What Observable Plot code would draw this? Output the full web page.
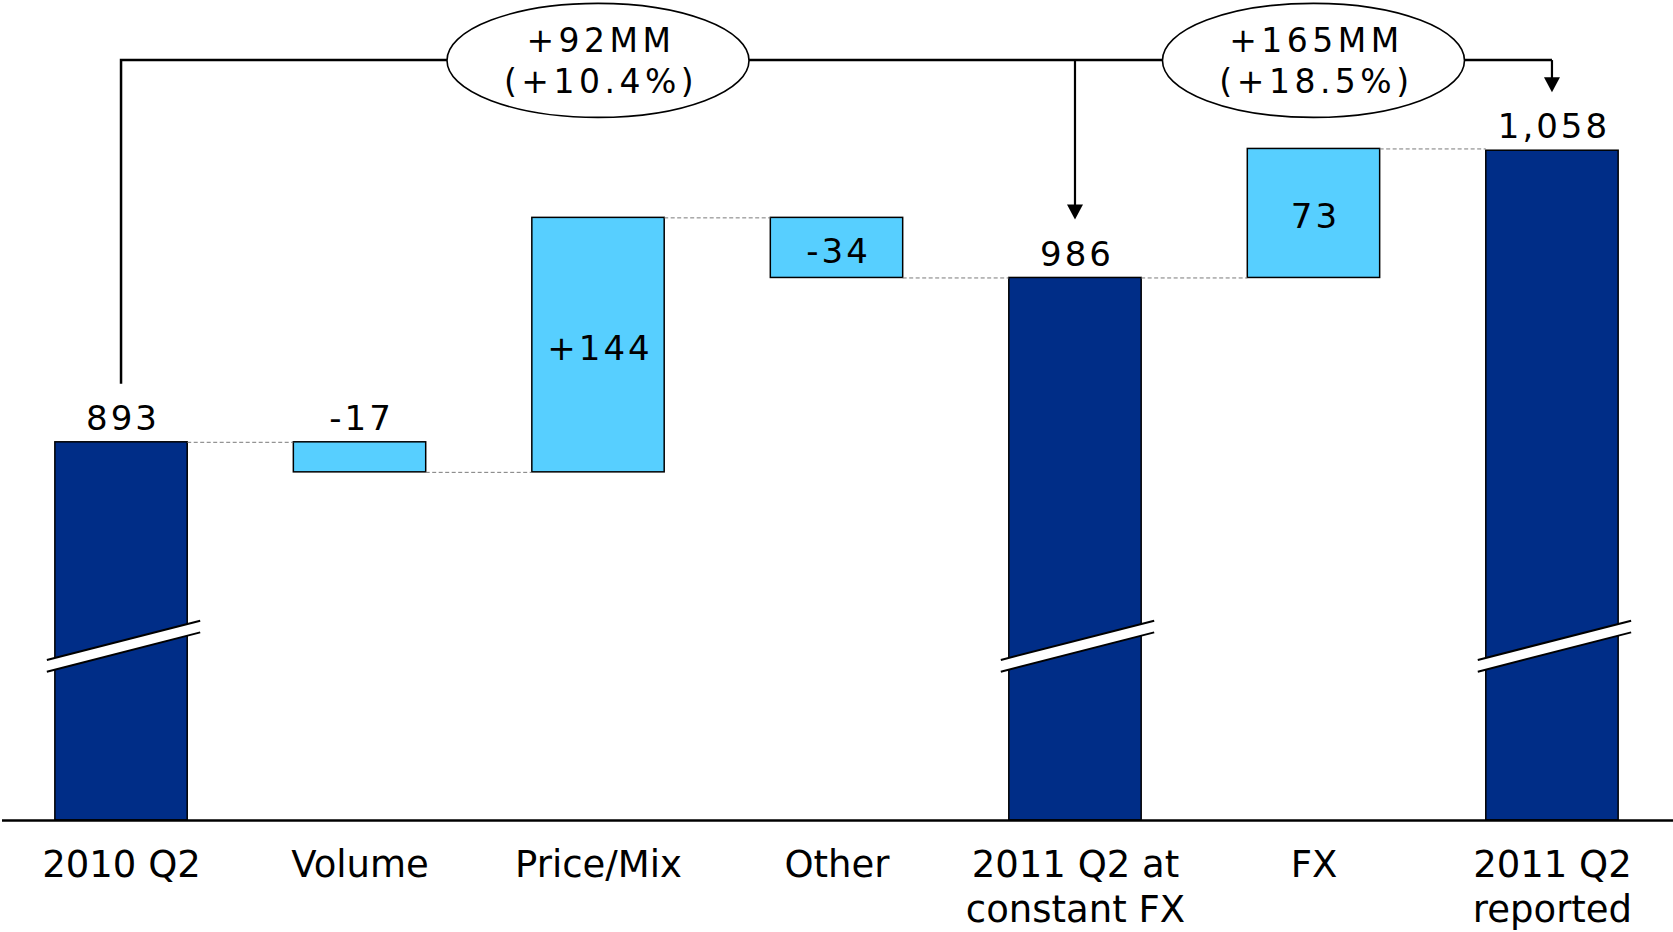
<!DOCTYPE html>
<html>
<head>
<meta charset="utf-8">
<script src="https://cdn.jsdelivr.net/npm/d3@7"></script>
<script src="https://cdn.jsdelivr.net/npm/@observablehq/plot@0.6"></script>
<style>
  html, body { margin: 0; padding: 0; background: #fff; }
  #chart svg { display: block; }
  g[aria-description="value labels"] { letter-spacing: 3px; }
  g[aria-description="change notes"] { letter-spacing: 4.5px; }
</style>
</head>
<body>
<div id="chart"></div>
<script>
// Bridge steps, left to right
const steps = ["2010 Q2", "Volume", "Price/Mix", "Other", "2011 Q2 at\nconstant FX", "FX", "2011 Q2\nreported"];
const stepKinds = ["total", "delta", "delta", "delta", "total", "delta", "total"];
const stepValues = [893, -17, 144, -34, 986, 73, 1058];
const valueLabels = ["893", "-17", "+144", "-34", "986", "73", "1,058"];

// Period-over-period change call-outs
const noteTexts = ["+92MM\n(+10.4%)", "+165MM\n(+18.5%)"];
const noteAnchors = ["Price/Mix", "FX"];
const noteTargets = ["2011 Q2 at\nconstant FX", "2011 Q2\nreported"];

// Truncated value axis (totals carry a break symbol)
const yFloor = 679;
const yTop = 1143;
const axisBreak = 777;
const bracketLevel = 1109;

const W = 1673, H = 932, marginBottom = 112;
const darkBlue = "#002d87";
const lightBlue = "#57cfff";

// Running totals -> floating bar extents
let running = 0;
const rows = steps.map((step, i) => {
  const kind = stepKinds[i], v = stepValues[i];
  let lo, hi, end;
  if (kind === "total") {
    lo = yFloor; hi = v; end = v;
  } else {
    lo = Math.min(running, running + v);
    hi = Math.max(running, running + v);
    end = running + v;
  }
  running = end;
  return {step, kind, value: v, label: valueLabels[i], lo, hi, mid: (lo + hi) / 2, end,
          inside: kind === "delta" && Math.abs(v) >= 30};
});

const connectors = rows.slice(0, -1).map((d, i) => ({from: d.step, to: steps[i + 1], level: d.end}));
const notes = noteTexts.map((text, i) => ({text, anchor: noteAnchors[i], target: noteTargets[i], level: bracketLevel}));

const xOptions = {type: "band", domain: steps, range: [0, W], paddingInner: 0.445, paddingOuter: 0.23, round: false};
const yOptions = {type: "linear", domain: [yFloor, yTop], range: [H - marginBottom, 0]};
const xs = Plot.scale({x: xOptions});
const ys = Plot.scale({y: yOptions});
const bw = xs.bandwidth;
const cx = (s) => xs.apply(s) + bw / 2;
const yTopOf = (s) => ys.apply(rows.find((d) => d.step === s).hi);

// Axis breaks, bracket with arrows, and the ellipse call-out frames
function decorations() {
  const g = d3.create("svg:g").attr("aria-label", "annotations");
  const slope = -0.2564, half = 5.85;
  for (const d of rows.filter((r) => r.kind === "total")) {
    const c = cx(d.step), yc = ys.apply(axisBreak);
    const xl = xs.apply(d.step) - 8, xr = xs.apply(d.step) + bw + 13;
    const t = (x) => yc - half + slope * (x - c);
    const b = (x) => yc + half + slope * (x - c);
    g.append("polygon")
      .attr("points", [[xl, t(xl)], [xr, t(xr)], [xr, b(xr)], [xl, b(xl)]].map((p) => p.join(",")).join(" "))
      .attr("fill", "#fff");
    for (const f of [t, b]) {
      g.append("line").attr("x1", xl).attr("y1", f(xl)).attr("x2", xr).attr("y2", f(xr))
        .attr("stroke", "#000").attr("stroke-width", 2);
    }
  }
  const ly = ys.apply(bracketLevel);
  const gap = 58, head = 15, headHalf = 8;
  const x0 = cx(steps[0]);
  const xEnd = cx(noteTargets[noteTargets.length - 1]);
  g.append("path")
    .attr("d", `M${x0},${yTopOf(steps[0]) - gap}V${ly}H${xEnd}`)
    .attr("fill", "none").attr("stroke", "#000").attr("stroke-width", 2.5);
  for (const target of noteTargets) {
    const x = cx(target), tip = yTopOf(target) - gap;
    g.append("path").attr("d", `M${x},${ly}V${tip - head + 1}`)
      .attr("stroke", "#000").attr("stroke-width", 2.2).attr("fill", "none");
    g.append("path").attr("d", `M${x - headHalf},${tip - head}L${x + headHalf},${tip - head}L${x},${tip}Z`)
      .attr("fill", "#000");
  }
  for (const n of notes) {
    g.append("ellipse")
      .attr("cx", cx(n.anchor)).attr("cy", ly + 0.3)
      .attr("rx", 151).attr("ry", 57)
      .attr("fill", "#fff").attr("stroke", "#000").attr("stroke-width", 1.6);
  }
  return g.node();
}

const chart = Plot.plot({
  width: W,
  height: H,
  marginTop: 0,
  marginRight: 0,
  marginLeft: 0,
  marginBottom,
  style: {fontFamily: "'DejaVu Sans', Verdana, sans-serif", background: "#fff", color: "#000"},
  x: xOptions,
  y: {...yOptions, axis: null},
  color: {domain: ["total", "delta"], range: [darkBlue, lightBlue]},
  marks: [
    Plot.barY(rows, {x: "step", y1: "lo", y2: "hi", fill: "kind", stroke: "#000", strokeWidth: 1.5}),
    Plot.ruleY(connectors, {y: "level", x1: "from", x2: "to", insetLeft: bw, insetRight: bw,
      stroke: "#7a7a7a", strokeWidth: 1, strokeDasharray: "4,2.5"}),
    Plot.ruleY([yFloor], {stroke: "#000", strokeWidth: 2.5, insetLeft: 2}),
    Plot.text(rows.filter((d) => !d.inside), {x: "step", y: "hi", text: "label", lineAnchor: "bottom",
      dy: -12.4, dx: 1.5, fontSize: 34, fill: "#000", ariaDescription: "value labels"}),
    Plot.text(rows.filter((d) => d.inside), {x: "step", y: "mid", text: "label",
      dx: 1.5, dy: 4, fontSize: 34, fill: "#000", ariaDescription: "value labels"}),
    decorations,
    Plot.text(notes, {x: "anchor", y: "level", text: "text", fontSize: 33, lineHeight: 1.25,
      dx: 2.5, dy: -1.5, fill: "#000", ariaDescription: "change notes"}),
    Plot.axisX({tickSize: 0, tickPadding: 25, fontSize: 37, lineHeight: 1.21, label: null})
  ]
});

document.getElementById("chart").appendChild(chart);
</script>
</body>
</html>
